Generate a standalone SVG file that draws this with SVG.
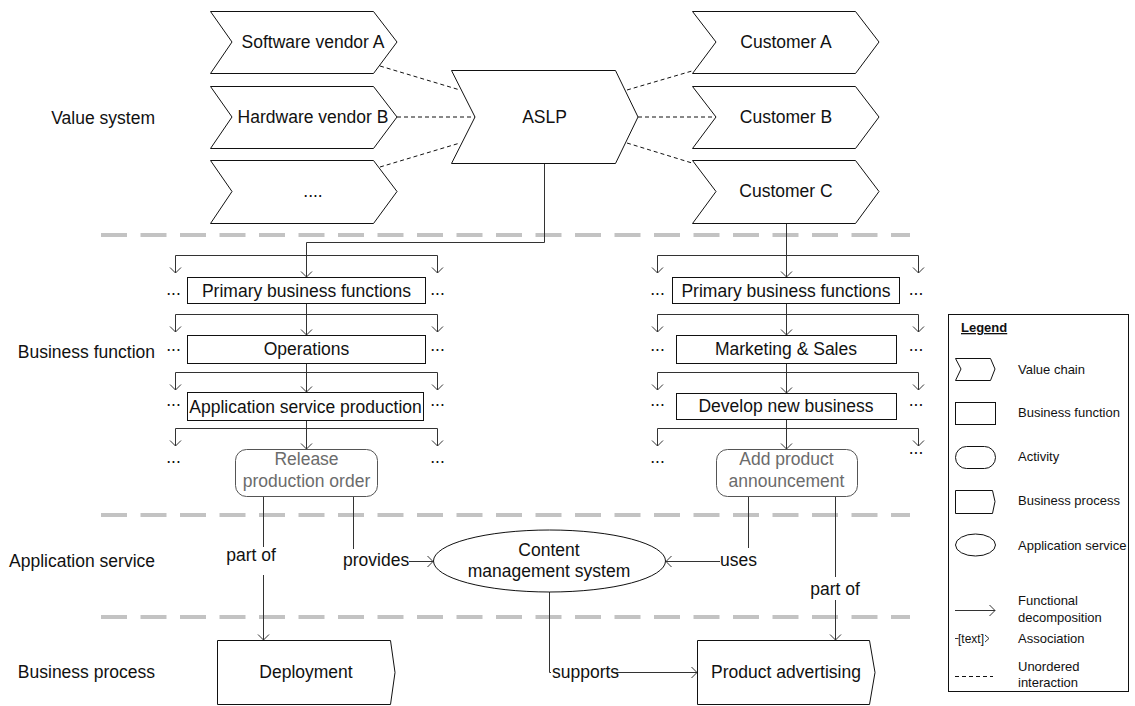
<svg xmlns="http://www.w3.org/2000/svg" width="1135" height="706" viewBox="0 0 1135 706">
  <style>
    text { font-family: "Liberation Sans", Arial, sans-serif; fill: #111; }
    .t { font-size: 17.5px; text-anchor: middle; }
    .lbl { font-size: 17.5px; text-anchor: end; }
    .dots { font-size: 17.5px; text-anchor: middle; }
    .lg { font-size: 13px; }
    .shape { fill: #fff; stroke: #111; stroke-width: 1; }
    .act { fill: #fff; stroke: #555; stroke-width: 1; }
    .act-t { fill: #6b6b6b; }
    .sep { stroke: #c3c3c3; stroke-width: 4; stroke-dasharray: 26 13.5; fill: none; }
    .con { fill: none; stroke: #333; stroke-width: 1; }
    .arr { marker-end: url(#arrow); }
    .ui { fill: none; stroke: #111; stroke-width: 1; stroke-dasharray: 4 3; }
  </style>
  <defs>
    <marker id="arrow" markerUnits="userSpaceOnUse" markerWidth="14" markerHeight="14" viewBox="0 0 14 14" refX="7" refY="7" orient="auto">
      <path d="M1.5,1.5 L7,7 L1.5,12.5" fill="none" stroke="#333" stroke-width="1"/>
    </marker>
  </defs>

  <rect width="1135" height="706" fill="#fff"/>

  <!-- layer labels -->
  <g id="layer-labels">
    <text class="lbl" x="155" y="124">Value system</text>
    <text class="lbl" x="155" y="358">Business function</text>
    <text class="lbl" x="155" y="567">Application service</text>
    <text class="lbl" x="155" y="678">Business process</text>
  </g>

  <!-- layer separators -->
  <g id="separators">
    <line class="sep" x1="101" y1="235" x2="910" y2="235"/>
    <line class="sep" x1="101" y1="515" x2="910" y2="515"/>
    <line class="sep" x1="101" y1="617" x2="910" y2="617"/>
  </g>

  <!-- connectors -->
  <g id="connectors">
    <!-- unordered interactions -->
    <line class="ui" x1="380" y1="66" x2="460" y2="90"/>
    <line class="ui" x1="397" y1="117" x2="475" y2="117"/>
    <line class="ui" x1="380" y1="167" x2="460" y2="143"/>
    <line class="ui" x1="627" y1="90" x2="692" y2="71"/>
    <line class="ui" x1="638" y1="117" x2="716" y2="117"/>
    <line class="ui" x1="627" y1="143" x2="692" y2="163"/>

    <!-- left decomposition tree -->
    <path class="con arr" d="M544.5,163 V242.5 H306.5 V277"/>
    <path class="con arr" d="M306.5,255.5 H175.5 V273"/>
    <path class="con arr" d="M306.5,255.5 H437.5 V273"/>
    <path class="con arr" d="M306.5,303 V335"/>
    <path class="con arr" d="M306.5,314.5 H175.5 V332"/>
    <path class="con arr" d="M306.5,314.5 H437.5 V332"/>
    <path class="con arr" d="M306.5,363 V392"/>
    <path class="con arr" d="M306.5,372.5 H175.5 V390"/>
    <path class="con arr" d="M306.5,372.5 H437.5 V390"/>
    <path class="con arr" d="M306.5,421 V449"/>
    <path class="con arr" d="M306.5,428.5 H175.5 V446"/>
    <path class="con arr" d="M306.5,428.5 H437.5 V446"/>

    <!-- right decomposition tree -->
    <path class="con arr" d="M786.5,223 V277"/>
    <path class="con arr" d="M786.5,255.5 H657.5 V273"/>
    <path class="con arr" d="M786.5,255.5 H918.5 V273"/>
    <path class="con arr" d="M786.5,303 V335"/>
    <path class="con arr" d="M786.5,314.5 H657.5 V332"/>
    <path class="con arr" d="M786.5,314.5 H918.5 V332"/>
    <path class="con arr" d="M786.5,363 V393"/>
    <path class="con arr" d="M786.5,372.5 H657.5 V390"/>
    <path class="con arr" d="M786.5,372.5 H918.5 V390"/>
    <path class="con arr" d="M786.5,419 V449"/>
    <path class="con arr" d="M786.5,428.5 H657.5 V446"/>
    <path class="con arr" d="M786.5,428.5 H918.5 V446"/>

    <!-- associations -->
    <path class="con" d="M263.5,497 V547"/>
    <path class="con arr" d="M263.5,575 V640"/>
    <text class="t" x="251" y="561">part of</text>

    <path class="con" d="M353.5,497 V549"/>
    <text x="343" y="566" style="font-size:17.5px">provides</text>
    <path class="con arr" d="M409,561.5 H433"/>

    <path class="con" d="M748.5,497 V548"/>
    <text x="720" y="566" style="font-size:17.5px">uses</text>
    <path class="con arr" d="M720,561.5 H666"/>

    <path class="con" d="M835.5,497 V577"/>
    <text class="t" x="835" y="595">part of</text>
    <path class="con arr" d="M835.5,600 V640"/>

    <path class="con" d="M549.5,592 V672.5 H551"/>
    <text x="552" y="678" style="font-size:17.5px">supports</text>
    <path class="con arr" d="M616,672.5 H697"/>
  </g>

  <!-- value system -->
  <g id="software-vendor-a">
    <polygon class="shape" points="210.5,11.5 373.5,11.5 397,42 373.5,73.5 210.5,73.5 232,42"/>
    <text class="t" x="313" y="48">Software vendor A</text>
  </g>
  <g id="hardware-vendor-b">
    <polygon class="shape" points="210.5,86.5 373.5,86.5 397,117 373.5,148.5 210.5,148.5 232,117"/>
    <text class="t" x="313" y="123">Hardware vendor B</text>
  </g>
  <g id="other-vendors">
    <polygon class="shape" points="210.5,160.5 373.5,160.5 397,191.5 373.5,223.5 210.5,223.5 232,191.5"/>
    <text class="t" x="313" y="197">....</text>
  </g>
  <g id="aslp">
    <polygon class="shape" points="451.5,70.5 615.5,70.5 638,117 615.5,163.5 451.5,163.5 475,117"/>
    <text class="t" x="544.5" y="123">ASLP</text>
  </g>
  <g id="customer-a">
    <polygon class="shape" points="692.5,11.5 855.5,11.5 879,42 855.5,73.5 692.5,73.5 716,42"/>
    <text class="t" x="786" y="48">Customer A</text>
  </g>
  <g id="customer-b">
    <polygon class="shape" points="692.5,86.5 855.5,86.5 879,117 855.5,148.5 692.5,148.5 716,117"/>
    <text class="t" x="786" y="123">Customer B</text>
  </g>
  <g id="customer-c">
    <polygon class="shape" points="692.5,160.5 855.5,160.5 879,191.5 855.5,223.5 692.5,223.5 716,191.5"/>
    <text class="t" x="786" y="197">Customer C</text>
  </g>

  <!-- business functions, left -->
  <g id="primary-functions-left">
    <rect class="shape" x="187.5" y="277.5" width="238" height="26"/>
    <text class="t" x="306.5" y="297">Primary business functions</text>
    <text class="dots" x="173.5" y="295">...</text>
    <text class="dots" x="437.5" y="295">...</text>
  </g>
  <g id="operations">
    <rect class="shape" x="187.5" y="335.5" width="238" height="28"/>
    <text class="t" x="306.5" y="355">Operations</text>
    <text class="dots" x="173.5" y="351">...</text>
    <text class="dots" x="437.5" y="351">...</text>
  </g>
  <g id="application-service-production">
    <rect class="shape" x="187.5" y="392.5" width="236" height="28"/>
    <text class="t" x="305.5" y="412.5">Application service production</text>
    <text class="dots" x="173.5" y="406">...</text>
    <text class="dots" x="437.5" y="406">...</text>
  </g>
  <g id="release-production-order">
    <rect class="act" x="235.5" y="449.5" width="142" height="47" rx="11"/>
    <text class="t act-t" x="306.5" y="465">Release</text>
    <text class="t act-t" x="306.5" y="487">production order</text>
    <text class="dots" x="173.5" y="463">...</text>
    <text class="dots" x="437.5" y="463">...</text>
  </g>

  <!-- business functions, right -->
  <g id="primary-functions-right">
    <rect class="shape" x="672.5" y="277.5" width="227" height="26"/>
    <text class="t" x="786" y="297">Primary business functions</text>
    <text class="dots" x="657.5" y="295">...</text>
    <text class="dots" x="916" y="295">...</text>
  </g>
  <g id="marketing-sales">
    <rect class="shape" x="676.5" y="335.5" width="220" height="28"/>
    <text class="t" x="786" y="355">Marketing &amp; Sales</text>
    <text class="dots" x="657.5" y="351">...</text>
    <text class="dots" x="916" y="351">...</text>
  </g>
  <g id="develop-new-business">
    <rect class="shape" x="676.5" y="393.5" width="220" height="26"/>
    <text class="t" x="786" y="412">Develop new business</text>
    <text class="dots" x="657.5" y="406">...</text>
    <text class="dots" x="916" y="406">...</text>
  </g>
  <g id="add-product-announcement">
    <rect class="act" x="716.5" y="449.5" width="141" height="47" rx="11"/>
    <text class="t act-t" x="786.5" y="465">Add product</text>
    <text class="t act-t" x="786.5" y="487">announcement</text>
    <text class="dots" x="657.5" y="463">...</text>
    <text class="dots" x="916" y="454">...</text>
  </g>

  <!-- application service -->
  <g id="content-management-system">
    <ellipse class="shape" cx="549.5" cy="561" rx="116" ry="31"/>
    <text class="t" x="549" y="556">Content</text>
    <text class="t" x="549" y="577">management system</text>
  </g>

  <!-- business processes -->
  <g id="deployment">
    <polygon class="shape" points="217.5,640.5 390.5,640.5 395,672.5 390.5,704.5 217.5,704.5"/>
    <text class="t" x="306" y="678">Deployment</text>
  </g>
  <g id="product-advertising">
    <polygon class="shape" points="697.5,640.5 869.5,640.5 875,672.5 869.5,704.5 697.5,704.5"/>
    <text class="t" x="786" y="678">Product advertising</text>
  </g>

  <!-- legend -->
  <g id="legend">
    <rect class="shape" x="948.5" y="314.5" width="180" height="377"/>
    <text class="lg" x="961" y="332" font-weight="bold" text-decoration="underline">Legend</text>

    <polygon class="shape" points="955.5,358.5 990.5,358.5 995,369 990.5,380.5 955.5,380.5 961,369"/>
    <text class="lg" x="1018" y="374">Value chain</text>

    <rect class="shape" x="955.5" y="402.5" width="40" height="22"/>
    <text class="lg" x="1018" y="417">Business function</text>

    <rect class="shape" x="955.5" y="446.5" width="40" height="22" rx="11"/>
    <text class="lg" x="1018" y="461">Activity</text>

    <polygon class="shape" points="955.5,490.5 992.5,490.5 995,501.5 992.5,513.5 955.5,513.5"/>
    <text class="lg" x="1018" y="505">Business process</text>

    <ellipse class="shape" cx="975.5" cy="545" rx="20" ry="11"/>
    <text class="lg" x="1018" y="550">Application service</text>

    <path class="con arr" d="M955,610.5 H995"/>
    <text class="lg" x="1018" y="605">Functional</text>
    <text class="lg" x="1018" y="622">decomposition</text>

    <path class="con" d="M955,638.5 H958.5"/>
    <text x="958" y="643" style="font-size:12px">[text]</text>
    <path d="M985,635 L989,638.5 L985,642" fill="none" stroke="#333" stroke-width="1"/>
    <text class="lg" x="1018" y="643">Association</text>

    <line class="ui" x1="955" y1="676.5" x2="993" y2="676.5"/>
    <text class="lg" x="1018" y="671">Unordered</text>
    <text class="lg" x="1018" y="687">interaction</text>
  </g>
</svg>
